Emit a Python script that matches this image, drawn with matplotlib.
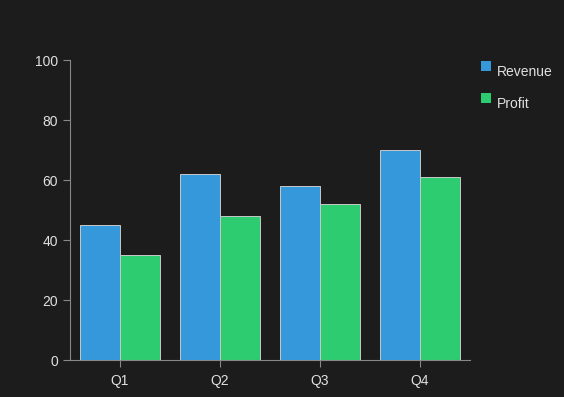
import numpy as np
import matplotlib.pyplot as plt
from matplotlib.patches import Rectangle

plt.rcParams['font.family'] = ['Liberation Sans', 'DejaVu Sans']

quarters = ['Q1', 'Q2', 'Q3', 'Q4']
revenue = [45, 62, 58, 70]
profit = [35, 48, 52, 61]
series_names = ['Revenue', 'Profit']
colors = ['#3498db', '#2ecc71']

bg = '#1c1c1c'
W, H = 564, 397
fig = plt.figure(figsize=(W/100, H/100), dpi=100, facecolor=bg)
ax = fig.add_axes([70/W, 1 - 360/H, 400/W, 300/H], facecolor=bg)

x = np.arange(len(quarters))
w = 0.4
ax.bar(x - w/2, revenue, w, color=colors[0], edgecolor='#c8c8c8', linewidth=0.7)
ax.bar(x + w/2, profit, w, color=colors[1], edgecolor='#c8c8c8', linewidth=0.7)

ax.set_xlim(-0.5, 3.5)
ax.set_ylim(0, 100)
ax.set_xticks(x)
ax.set_xticklabels(quarters)
ax.set_yticks([0, 20, 40, 60, 80, 100])

for s in ['top', 'right']:
    ax.spines[s].set_visible(False)
for s in ['left', 'bottom']:
    ax.spines[s].set_color('#888888')
    ax.spines[s].set_linewidth(0.8)
ax.tick_params(colors='#888888', labelcolor='#e0e0e0', labelsize=10,
               length=5, width=0.8)
ax.tick_params(axis='x', pad=5)

# legend drawn by hand: square sits a little above the text
for i, (name, c) in enumerate(zip(series_names, colors)):
    top = 61 + i * 32
    fig.patches.append(Rectangle((481/W, 1 - (top + 10)/H), 10/W, 10/H,
                                 transform=fig.transFigure, facecolor=c,
                                 edgecolor='none'))
    fig.text(497/W, 1 - (top + 11)/H, name, color='#e0e0e0', fontsize=10,
             ha='left', va='center')

fig.savefig('out.png', dpi=100, facecolor=bg)
